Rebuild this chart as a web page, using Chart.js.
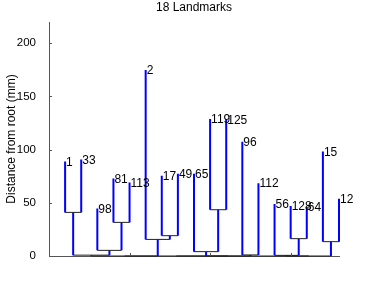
<!DOCTYPE html>
<html lang="en">
<head>
    <meta charset="UTF-8">
    <title>18 Landmarks</title>
    <script src="https://cdn.jsdelivr.net/npm/chart.js@4/dist/chart.umd.min.js"></script>
    <style>
        html, body { margin: 0; padding: 0; background: #fff; }
        .chart-container { width: 374px; height: 288px; }
    </style>
</head>
<body>
<div class="chart-container">
    <canvas id="treeChart" width="374" height="288"></canvas>
</div>

<script>
    // leaves, left to right
    var leafLabels = ['1', '33', '98', '81', '113', '2', '17', '49', '65', '119', '125', '96', '112', '56', '128', '64', '15', '12'];
    var leafDist = [88.8, 90.7, 44.7, 72.9, 69.0, 174.8, 75.4, 77.3, 77.3, 128.9, 128.5, 107.3, 68.5, 49.0, 47.0, 46.0, 98.2, 53.8];

    // merges, linkage style: node 19 is the first merge, 20 the second...
    var mergeA = [1, 4, 3, 19, 7, 6, 10, 9, 12, 15, 14, 17, 22, 26, 29, 31, 33];
    var mergeB = [2, 5, 20, 21, 8, 23, 11, 25, 13, 16, 28, 18, 24, 27, 30, 32, 34];
    var mergeDist = [41.0, 31.6, 5.3, 0.8, 19.1, 15.6, 43.5, 4.1, 1.0, 16.3, 0.6, 13.5, 0, 0, 0, 0, 0];

    var yTicks = [0, 50, 100, 150, 200];
    var xTicks = [0, 5, 10, 15];

    var FONT = '"Liberation Sans", Arial, Helvetica, sans-serif';

    // node positions
    var nodeX = [null], nodeY = [null];
    for (var i = 0; i < leafLabels.length; i++) {
        nodeX.push(i + 1);
        nodeY.push(leafDist[i]);
    }
    for (var m = 0; m < mergeA.length; m++) {
        nodeX.push((nodeX[mergeA[m]] + nodeX[mergeB[m]]) / 2);
        nodeY.push(mergeDist[m]);
    }

    // build the line pieces, null y breaks the line
    var vertData = [], horizData = [];
    for (var m = 0; m < mergeA.length; m++) {
        var k = leafLabels.length + 1 + m;
        var a = mergeA[m], b = mergeB[m];
        horizData.push({x: nodeX[a], y: nodeY[k]}, {x: nodeX[b], y: nodeY[k]}, {x: nodeX[b], y: null});
        [a, b].forEach(function(c) {
            vertData.push({x: nodeX[c], y: nodeY[c]}, {x: nodeX[c], y: nodeY[k]}, {x: nodeX[c], y: null});
        });
    }

    var annotations = {
        id: 'annotations',
        afterDraw: function(chart) {
            var ctx = chart.ctx, xs = chart.scales.x, ys = chart.scales.y;
            var area = chart.chartArea;
            ctx.save();

            // inward tick marks
            ctx.strokeStyle = '#555';
            ctx.lineWidth = 1;
            ctx.beginPath();
            yTicks.forEach(function(v) {
                var py = Math.round(ys.getPixelForValue(v)) + 0.5;
                ctx.moveTo(area.left, py);
                ctx.lineTo(area.left + 3, py);
            });
            xTicks.forEach(function(v) {
                var px = Math.round(xs.getPixelForValue(v)) + 0.5;
                ctx.moveTo(px, area.bottom);
                ctx.lineTo(px, area.bottom - 3);
            });
            ctx.stroke();

            // leaf labels
            ctx.fillStyle = '#000';
            ctx.font = '12px ' + FONT;
            ctx.textAlign = 'left';
            ctx.textBaseline = 'middle';
            for (var i = 0; i < leafLabels.length; i++) {
                ctx.fillText(leafLabels[i], xs.getPixelForValue(i + 1) + 1, ys.getPixelForValue(leafDist[i]) + 1);
            }

            // title
            ctx.textAlign = 'center';
            ctx.fillText('18 Landmarks', (area.left + area.right) / 2, 8);

            // y axis title
            ctx.translate(11.5, (area.top + area.bottom) / 2);
            ctx.rotate(-Math.PI / 2);
            ctx.fillText('Distance from root (mm)', 0, 0);
            ctx.restore();
        }
    };

    var ctx = document.getElementById('treeChart').getContext('2d');
    var treeChart = new Chart(ctx, {
        type: 'scatter',
        data: {
            datasets: [
                {
                    data: horizData,
                    showLine: true,
                    spanGaps: false,
                    borderColor: '#222',
                    borderWidth: 1,
                    pointRadius: 0,
                    clip: false
                },
                {
                    data: vertData,
                    showLine: true,
                    spanGaps: false,
                    borderColor: '#0000ff',
                    borderWidth: 2,
                    pointRadius: 0,
                    clip: false
                }
            ]
        },
        options: {
            responsive: false,
            animation: false,
            events: [],
            layout: { padding: { top: 22, right: 35, left: 0, bottom: 0 } },
            plugins: {
                legend: { display: false },
                tooltip: { enabled: false }
            },
            scales: {
                x: {
                    type: 'linear',
                    min: 0,
                    max: 18,
                    grid: { display: false },
                    border: { display: true, color: '#555', width: 1 },
                    ticks: { display: false },
                    afterFit: function(scale) { scale.height = 32; }
                },
                y: {
                    type: 'linear',
                    min: 0,
                    max: 220,
                    grid: { display: false },
                    border: { display: true, color: '#555', width: 1 },
                    ticks: {
                        color: '#000',
                        padding: 5,
                        font: { family: FONT, size: 11.5 }
                    },
                    afterBuildTicks: function(scale) {
                        scale.ticks = yTicks.map(function(v) { return {value: v}; });
                    },
                    afterFit: function(scale) { scale.width = 49; }
                }
            }
        },
        plugins: [annotations]
    });
</script>
</body>
</html>
